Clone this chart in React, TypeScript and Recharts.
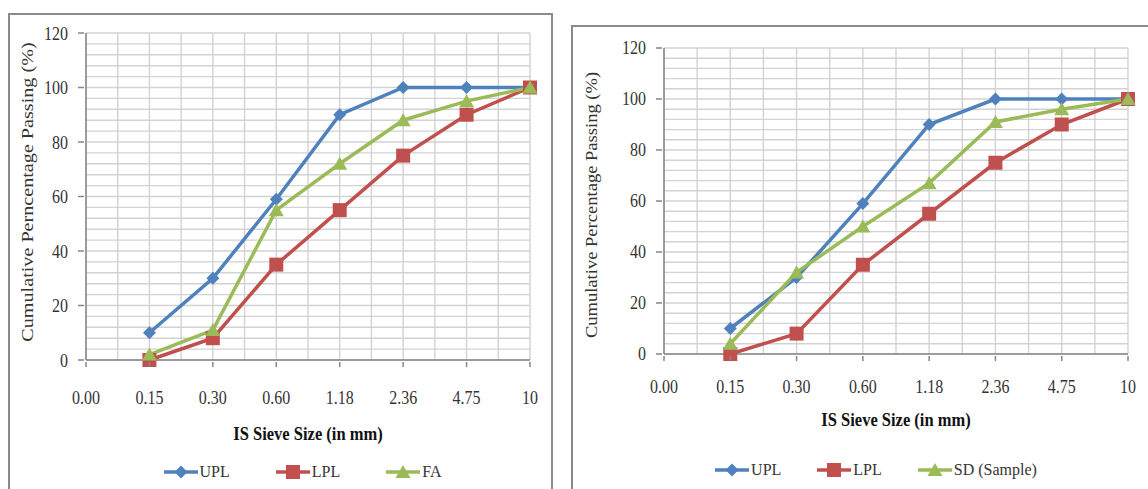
import React from 'react';
import { CartesianGrid, Legend, Line, LineChart, XAxis, YAxis } from 'recharts';

// IS sieve sizes (mm) on the category axis
const sieveSizes = ['0.00', '0.15', '0.30', '0.60', '1.18', '2.36', '4.75', '10'];

// grading limits (same in both charts)
const upl = [null, 10, 30, 59, 90, 100, 100, 100];
const lpl = [null, 0, 8, 35, 55, 75, 90, 100];

// left chart: fine aggregate
const fa = [null, 2, 11, 55, 72, 88, 95, 100];
// right chart: SD sample
const sdSample = [null, 4, 32, 50, 67, 91, 96, 100];

const yTicks = Array.from({ length: 31 }, (_, k) => k * 4);
const xTicks = Array.from({ length: 15 }, (_, k) => k / 2);

const BLUE = '#4F81BD';
const RED = '#C0504D';
const GREEN = '#9BBB59';
const FONT = '"Liberation Serif", "Times New Roman", serif';
const AXIS = '#868686';
const GRID = '#d2d2d2';

const Marker = ({ shape, color, cx, cy }: any) => {
  if (cx == null || cy == null || isNaN(cy)) return null;
  if (shape === 'diamond') {
    const r = 6.5;
    return <polygon points={`${cx},${cy - r} ${cx + r},${cy} ${cx},${cy + r} ${cx - r},${cy}`} fill={color} />;
  }
  if (shape === 'square') {
    const h = 7;
    return <rect x={cx - h} y={cy - h} width={h * 2} height={h * 2} fill={color} />;
  }
  return <polygon points={`${cx},${cy - 7} ${cx + 7.5},${cy + 6} ${cx - 7.5},${cy + 6}`} fill={color} />;
};

const XTick = ({ x, y, payload, dy, sy }: any) => {
  const v = payload.value;
  if (!Number.isInteger(v)) return null;
  return (
    <g transform={`translate(${x},${y})`}>
      <line x1={0} y1={0} x2={0} y2={5} stroke={AXIS} strokeWidth={1.5} />
      <text transform={`translate(0,${dy}) scale(1,${sy})`} textAnchor="middle" dominantBaseline="central"
        fontFamily={FONT} fontSize={16} fill="#333">{sieveSizes[v]}</text>
    </g>
  );
};

const YTick = ({ x, y, payload, sy }: any) => {
  const v = payload.value;
  if (v % 20 !== 0) return null;
  return (
    <g transform={`translate(${x},${y})`}>
      <line x1={-6} y1={0} x2={0} y2={0} stroke={AXIS} strokeWidth={1.5} />
      <text transform={`translate(-16,0) scale(1,${sy})`} textAnchor="end" dominantBaseline="central"
        fontFamily={FONT} fontSize={16} fill="#333">{v}</text>
    </g>
  );
};

const VTitle = ({ px, py, stretch, caption }: any) => (
  <text transform={`translate(${px},${py}) rotate(-90) scale(${stretch},1)`} textAnchor="middle"
    dominantBaseline="central" fontFamily={FONT} fontSize={16} fill="#333">{caption}</text>
);

const HTitle = ({ px, py, sy, caption }: any) => (
  <text transform={`translate(${px},${py}) scale(1,${sy})`} textAnchor="middle" dominantBaseline="central"
    fontFamily={FONT} fontSize={16.5} fontWeight="bold" fill="#111">{caption}</text>
);

const makeLegend = (series: any[], padLeft: number, gap: number, h: number, w: number) => (props: any) => {
  const items = series.map((s) => {
    const entry = (props.payload || []).find((e: any) => e.dataKey === s.key);
    return { ...s, label: entry ? entry.value : s.name };
  });
  return (
    <div style={{ height: h, width: w, display: 'flex', alignItems: 'center', justifyContent: 'center',
      paddingLeft: padLeft, boxSizing: 'border-box', fontFamily: FONT, fontSize: 16, color: '#333' }}>
      {items.map((s: any, k: number) => (
        <div key={s.key} style={{ display: 'flex', alignItems: 'center', marginLeft: k === 0 ? 0 : gap }}>
          <svg width={34} height={16}>
            <line x1={0} y1={8} x2={34} y2={8} stroke={s.color} strokeWidth={3.5} />
            <Marker shape={s.shape} color={s.color} cx={17} cy={8} />
          </svg>
          <span style={{ marginLeft: 2 }}>{s.label}</span>
        </div>
      ))}
    </div>
  );
};

const Panel = ({ cfg }: any) => {
  const data = sieveSizes.map((size, i) => {
    const row: any = { i, size };
    cfg.series.forEach((s: any) => { row[s.key] = s.values[i]; });
    return row;
  });
  return (
    <div style={{ position: 'absolute', left: cfg.left, top: 0 }}>
      <LineChart width={cfg.width} height={489} data={data} margin={cfg.margin}>
        <CartesianGrid stroke={GRID} strokeWidth={1.4} />
        <XAxis dataKey="i" type="number" domain={[0, 7]} ticks={xTicks} interval={0} height={cfg.xAxisH}
          tickSize={0} tickLine={false} axisLine={{ stroke: AXIS, strokeWidth: 1.5 }}
          tick={<XTick dy={cfg.xLabelDy} sy={cfg.sy} />}
          label={<HTitle px={cfg.xTitle[0]} py={cfg.xTitle[1]} sy={cfg.sy} caption="IS Sieve Size (in mm)" />} />
        <YAxis type="number" domain={[0, 120]} ticks={yTicks} interval={0} width={60}
          tickSize={0} tickLine={false} axisLine={{ stroke: AXIS, strokeWidth: 1.5 }}
          tick={<YTick sy={cfg.sy} />}
          label={<VTitle px={cfg.yTitle[0]} py={cfg.yTitle[1]} stretch={cfg.yStretch} caption={cfg.yCaption} />} />
        <Legend verticalAlign="bottom" wrapperStyle={{ left: 0, width: cfg.width }}
          content={makeLegend(cfg.series, cfg.legendPad, cfg.legendGap, cfg.legendH, cfg.width)} />
        {cfg.series.map((s: any) => (
          <Line key={s.key} dataKey={s.key} name={s.name} stroke={s.color} strokeWidth={3.5}
            isAnimationActive={false} activeDot={false}
            dot={(p: any) => <Marker key={`${s.key}-${p.index}`} shape={s.shape} color={s.color} cx={p.cx} cy={p.cy} />} />
        ))}
      </LineChart>
    </div>
  );
};

const leftCfg = {
  left: 0, width: 560,
  margin: { top: 33, right: 30, left: 26, bottom: 0 },
  xAxisH: 95, legendH: 34, xLabelDy: 35, sy: 1.2,
  xTitle: [308, 433], yTitle: [28, 192], yStretch: 1.26,
  yCaption: 'Cumulative Perncentage Passing (%)',
  legendPad: 45, legendGap: 46,
  series: [
    { key: 'UPL', name: 'UPL', values: upl, color: BLUE, shape: 'diamond' },
    { key: 'LPL', name: 'LPL', values: lpl, color: RED, shape: 'square' },
    { key: 'FA', name: 'FA', values: fa, color: GREEN, shape: 'triangle' },
  ],
};

const rightCfg = {
  left: 560, width: 588,
  margin: { top: 48, right: 20, left: 44, bottom: 0 },
  xAxisH: 97, legendH: 38, xLabelDy: 31, sy: 1.12,
  xTitle: [336, 420], yTitle: [32, 205], yStretch: 1.16,
  yCaption: 'Cumulative Percentage Passing (%)',
  legendPad: 44, legendGap: 36,
  series: [
    { key: 'UPL', name: 'UPL', values: upl, color: BLUE, shape: 'diamond' },
    { key: 'LPL', name: 'LPL', values: lpl, color: RED, shape: 'square' },
    { key: 'SD', name: 'SD (Sample)', values: sdSample, color: GREEN, shape: 'triangle' },
  ],
};

export default function App() {
  return (
    <div style={{ position: 'absolute', left: 0, top: 0, width: 1148, height: 489, overflow: 'hidden', background: '#fff' }}>
      <div style={{ position: 'absolute', left: 8, top: 13, width: 541, height: 500, border: '2px solid #8a8a8a' }} />
      <div style={{ position: 'absolute', left: 571, top: 25, width: 620, height: 500, border: '2px solid #8a8a8a' }} />
      <Panel cfg={leftCfg} />
      <Panel cfg={rightCfg} />
    </div>
  );
}
